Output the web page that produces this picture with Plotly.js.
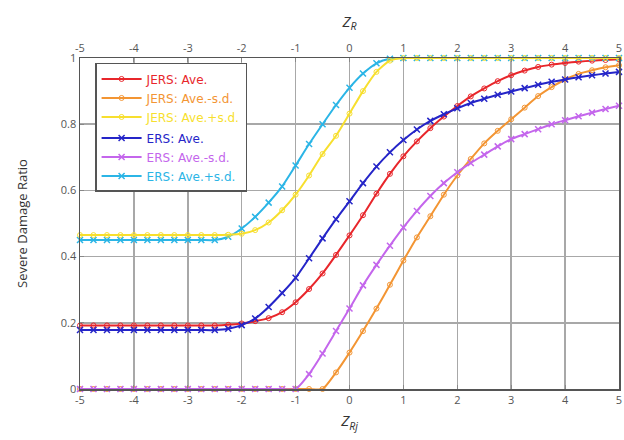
<!DOCTYPE html>
<html>
<head>
<meta charset="utf-8">
<script src="https://cdn.plot.ly/plotly-3.0.1.min.js"></script>
<style>html,body{margin:0;padding:0;background:#fff;}#chart{width:624px;height:440px;}</style>
</head>
<body>
<div id="chart"></div>
<script>
// Z values (x positions of the markers)
const zValues = [-5,-4.75,-4.5,-4.25,-4,-3.75,-3.5,-3.25,-3,-2.75,-2.5,-2.25,-2,-1.75,-1.5,-1.25,-1,-0.75,-0.5,-0.25,0,0.25,0.5,0.75,1,1.25,1.5,1.75,2,2.25,2.5,2.75,3,3.25,3.5,3.75,4,4.25,4.5,4.75,5];
const xTickLabels = ['-5','-4','-3','-2','-1','0','1','2','3','4','5'];
const yTickLabels = ['0','0.2','0.4','0.6','0.8','1'];

const jersAve   = [0.192,0.192,0.192,0.192,0.192,0.192,0.192,0.192,0.192,0.192,0.192,0.194,0.198,0.205,0.214,0.232,0.262,0.302,0.349,0.405,0.464,0.525,0.59,0.65,0.703,0.748,0.788,0.823,0.855,0.884,0.908,0.93,0.948,0.962,0.973,0.98,0.985,0.989,0.992,0.994,0.996];
const jersMinus = [0,0,0,0,0,0,0,0,0,0,0,0,0,0,0,0,0,0,0,0.05,0.11,0.175,0.243,0.315,0.388,0.458,0.522,0.587,0.645,0.695,0.742,0.78,0.815,0.85,0.885,0.912,0.935,0.952,0.963,0.972,0.978];
const jersPlus  = [0.465,0.465,0.465,0.465,0.465,0.465,0.465,0.465,0.465,0.465,0.465,0.466,0.469,0.48,0.503,0.54,0.587,0.645,0.71,0.765,0.832,0.9,0.958,0.992,1,1,1,1,1,1,1,1,1,1,1,1,1,1,1,1,1];
const ersAve    = [0.178,0.178,0.178,0.178,0.178,0.178,0.178,0.178,0.178,0.178,0.178,0.182,0.193,0.213,0.248,0.29,0.336,0.395,0.455,0.513,0.567,0.622,0.672,0.715,0.752,0.784,0.81,0.83,0.848,0.864,0.877,0.889,0.899,0.909,0.919,0.928,0.935,0.942,0.948,0.953,0.958];
const ersMinus  = [0,0,0,0,0,0,0,0,0,0,0,0,0,0,0,0,0,0.045,0.107,0.175,0.243,0.313,0.375,0.433,0.488,0.538,0.583,0.622,0.655,0.683,0.708,0.733,0.755,0.77,0.785,0.8,0.812,0.824,0.835,0.846,0.856];
const ersPlus   = [0.45,0.45,0.45,0.45,0.45,0.45,0.45,0.45,0.45,0.45,0.45,0.46,0.485,0.52,0.563,0.612,0.675,0.74,0.8,0.858,0.91,0.953,0.984,0.998,1,1,1,1,1,1,1,1,1,1,1,1,1,1,1,1,1];

const seriesNames = ['JERS: Ave.','JERS: Ave.-s.d.','JERS: Ave.+s.d.','ERS: Ave.','ERS: Ave.-s.d.','ERS: Ave.+s.d.'];
const seriesValues = [jersAve, jersMinus, jersPlus, ersAve, ersMinus, ersPlus];
const colors = ['#e8262b','#f39533','#f7df2e','#2525c8','#c466ec','#2bb5e6'];
const groups = ['JERS','JERS','JERS','ERS','ERS','ERS'];

const traces = seriesValues.map((ys, i) => {
  const isJ = i < 3;
  return {
    type: 'scatter', mode: 'lines+markers',
    x: zValues, y: ys,
    xaxis: (i === 2) ? 'x2' : 'x',
    name: '<span style="color:' + colors[i] + '">' + seriesNames[i] + '</span>',
    legendgroup: groups[i],
    line: {color: colors[i], width: 2, shape: 'spline', smoothing: 0.6},
    marker: isJ
      ? {symbol: 'circle-open', size: 5, color: colors[i], line: {color: colors[i], width: 1}}
      : {symbol: 'x-thin-open', size: 6, color: colors[i], line: {color: colors[i], width: 1.5}},
    cliponaxis: false,
    hoverinfo: 'skip'
  };
});

const axisFont = {family: 'Open Sans, sans-serif', size: 11, color: '#555'};
const tickVals = xTickLabels.map(Number);
const common = {
  showgrid: true, gridcolor: '#a8a8a8', gridwidth: 1.5,
  showline: true, linecolor: '#555', linewidth: 1.5, mirror: true,
  ticks: 'inside', ticklen: 4, tickcolor: '#888', tickwidth: 1,
  zeroline: false, tickfont: axisFont, fixedrange: true
};

const layout = {
  width: 624, height: 440,
  margin: {l: 80, r: 5, t: 58, b: 51},
  paper_bgcolor: '#fff', plot_bgcolor: '#fff',
  showlegend: true,
  xaxis: Object.assign({}, common, {
    range: [-5, 5], tickvals: tickVals, ticktext: xTickLabels,
    title: {text: '<i>Z<sub>Rj</sub></i>', font: {family: 'Open Sans, sans-serif', size: 15, color: '#333'}, standoff: 10}
  }),
  xaxis2: Object.assign({}, common, {
    overlaying: 'x', side: 'top', showgrid: false,
    range: [-5, 5], tickvals: tickVals, ticktext: xTickLabels,
    title: {text: '<i>Z<sub>R</sub></i>', font: {family: 'Open Sans, sans-serif', size: 15, color: '#333'}, standoff: 9}
  }),
  yaxis: Object.assign({}, common, {
    range: [0, 1], tickvals: yTickLabels.map(Number), ticktext: yTickLabels,
    title: {text: 'Severe Damage Ratio', font: {family: 'Open Sans, sans-serif', size: 13, color: '#333'}, standoff: 30}
  }),
  legend: {
    x: 0.028, y: 0.985, xanchor: 'left', yanchor: 'top',
    bgcolor: '#fff', bordercolor: '#555', borderwidth: 1.5,
    font: {family: 'DejaVu Sans, sans-serif', size: 12},
    traceorder: 'grouped', tracegroupgap: 2, itemwidth: 40
  }
};

Plotly.newPlot('chart', traces, layout, {staticPlot: true, displayModeBar: false});
</script>
</body>
</html>
